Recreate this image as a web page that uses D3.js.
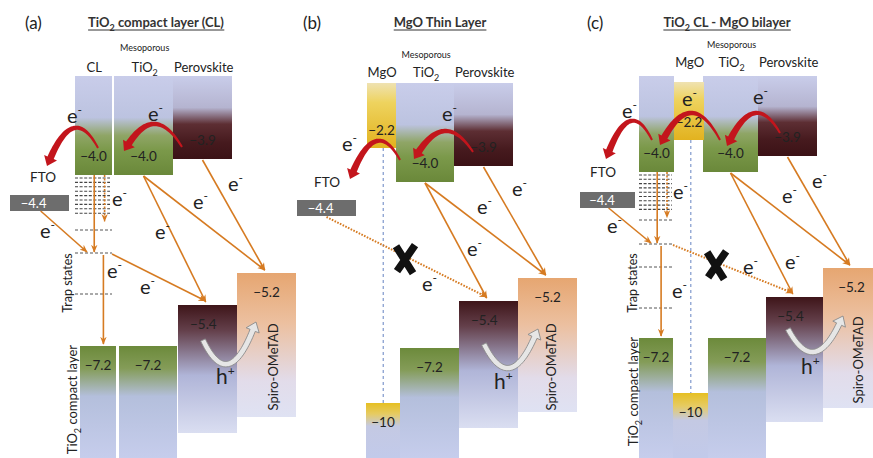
<!DOCTYPE html>
<html>
<head>
<meta charset="utf-8">
<script src="https://cdn.jsdelivr.net/npm/d3@7"></script>
<style>
  body { margin: 0; background: #fff; }
  text { font-family: Lato, "Open Sans", sans-serif; fill: #222; }
</style>
</head>
<body>
<div id="chart"></div>
<script>
// Data
const panelTags = ["(a)", "(b)", "(c)"];
const panelTitles = [["TiO", "2", " compact layer (CL)"], ["MgO Thin Layer"], ["TiO", "2", " CL - MgO bilayer"]];
const layerKeys = ["CL", "MgO", "TiO2", "Perovskite", "Spiro", "FTO"];
const cbLevels = [-4.0, -2.2, -4.0, -3.9, null, -4.4];
const vbLevels = [-7.2, -10, -7.2, -5.4, -5.2, null];
const panelLayers = [
    ["CL", "TiO2", "Perovskite", "Spiro", "FTO"],
    ["TiO2", "MgO", "Perovskite", "Spiro", "FTO"],
    ["CL", "TiO2", "MgO", "Perovskite", "Spiro", "FTO"]
];
const panelHeaders = [["CL", "TiO2", "Perovskite"], ["MgO", "TiO2", "Perovskite"], ["MgO", "TiO2", "Perovskite"]];
// energy break points of the (schematic) energy axis
const energyStops = [-2.2, -3.9, -4.0, -4.4, -5.2, -5.4, -7.2, -10];
// electron transfers drawn in every panel: [from layer, band, to layer, band]
const transfers = [["TiO2", "cb", "Perovskite", "vb"], ["TiO2", "cb", "Spiro", "vb"], ["Perovskite", "cb", "Spiro", "vb"]];

const chart_width = 873;
const chart_height = 458;

const level = (key, band) => (band === "cb" ? cbLevels : vbLevels)[layerKeys.indexOf(key)];
const fmt = v => Math.abs(v) >= 10 ? d3.format("d")(v) : d3.format(".1f")(v);

// Layout of each panel (pixels)
const layout = [
    {
        tag: [25, 29], title: [156, 27], mesoY: 51, headerY: 72,
        yRange: [140, 159, 175, 195, 273, 305, 346, 400], cbTop: {},
        top: 76,
        cbX: {CL: [75, 112], TiO2: [114, 173], Perovskite: [173, 232], FTO: [10, 69]},
        vbX: {CL: [80, 116], TiO2: [119, 177], Perovskite: [178, 237], Spiro: [237, 296]},
        vbBottom: {Perovskite: 433, Spiro: 417},
        traps: {x: [75, 110], x2: [75, 112], start: 3, step: 4.4, count: 9, sparse: [55, 78, 119], hit: 1, blocked: false},
        fto: [43, 182],
        red: [[[98, 148], 128, [47, 166]], [[182, 147], 124, [124, 151]]],
        gray: [[203, 340], 364, [256, 322]],
        trapLabels: [[67, 283], [72, 345]],
        spiroX: 273,
        e: [[72, 117], [153, 115], [117, 200], [233, 185], [198, 203], [45, 232], [160, 233], [112, 272], [145, 288]],
        h: [222, 377]
    },
    {
        tag: [303, 29], title: [440, 27], mesoY: 58, headerY: 77,
        yRange: [148, 166, 182, 200, 278, 301, 348, 403], cbTop: {},
        top: 83,
        cbX: {MgO: [367, 396], TiO2: [396, 454], Perovskite: [454, 513], FTO: [297, 356]},
        vbX: {MgO: [366, 400], TiO2: [400, 459], Perovskite: [459, 518], Spiro: [518, 577]},
        vbBottom: {Perovskite: 428, Spiro: 412},
        traps: null, xFrac: 0.49,
        fto: [327, 187],
        red: [[[400, 160], 141, [350, 179]], [[473, 152], 131, [414, 159]]],
        gray: [[484, 344], 368, [538, 329]],
        trapLabels: null,
        spiroX: 551,
        e: [[347, 145], [447, 115], [517, 190], [482, 208], [472, 250], [427, 285]],
        h: [500, 382]
    },
    {
        tag: [587, 29], title: [727, 27], mesoY: 48, headerY: 67,
        yRange: [140, 156, 172, 192, 268, 297, 338, 393], cbTop: {MgO: 82},
        top: 76,
        cbX: {CL: [639, 674], MgO: [674, 704], TiO2: [703, 758], Perovskite: [758, 817], FTO: [580, 635]},
        vbX: {CL: [639, 673], MgO: [673, 708], TiO2: [708, 766], Perovskite: [766, 823], Spiro: [823, 880]},
        vbBottom: {Perovskite: 422, Spiro: 408},
        traps: {x: [639, 672], x2: [639, 673], start: 3, step: 4.3, count: 9, sparse: [48, 72, 95, 136], hit: 1, blocked: true},
        xFrac: 0.36,
        fto: [603, 177],
        red: [[[652, 140], 121, [606, 159]], [[720, 140], 113, [660, 145]], [[780, 133], 113, [727, 146]]],
        gray: [[788, 329], 352, [843, 316]],
        trapLabels: [[632, 283], [633, 337]],
        spiroX: 858,
        e: [[627, 112], [687, 100], [758, 98], [678, 193], [817, 182], [787, 197], [612, 227], [677, 292], [748, 268], [790, 263]],
        h: [807, 367]
    }
];

// Create SVG
const svg = d3.select("#chart")
    .append("svg")
    .attr("width", chart_width)
    .attr("height", chart_height);

const defs = svg.append("defs");

const gradients = {
    cbTiO2: [[0, "#c9cdea"], [0.42, "#bcc3e0"], [0.6, "#8fa566"], [0.75, "#7b994a"], [1, "#6a883a"]],
    cbPerov: [[0, "#c9cdea"], [0.38, "#b5b4d0"], [0.58, "#5d2e33"], [0.8, "#461a1e"], [1, "#3b1216"]],
    cbMgO: [[0, "#efe2b2"], [0.3, "#eed35e"], [1, "#e2b21f"]],
    vbTiO2: [[0, "#6c8a3b"], [0.2, "#849c58"], [0.45, "#b4bfdc"], [1, "#c6cdec"]],
    vbPerov: [[0, "#3e1519"], [0.2, "#64404b"], [0.55, "#b0b5d8"], [1, "#dadef1"]],
    vbSpiro: [[0, "#e6a671"], [0.35, "#ecc0a0"], [0.75, "#e2dcea"], [1, "#dfe2f3"]],
    vbMgO: [[0, "#e6bf22"], [0.2, "#e6cb62"], [0.42, "#c4c9e3"], [1, "#c2caea"]]
};
Object.entries(gradients).forEach(([id, stops]) => {
    const g = defs.append("linearGradient").attr("id", id)
        .attr("x1", 0).attr("x2", 0).attr("y1", 0).attr("y2", 1);
    stops.forEach(s => g.append("stop").attr("offset", s[0]).attr("stop-color", s[1]));
});

defs.append("marker")
    .attr("id", "arrOrange")
    .attr("viewBox", "0 0 10 10")
    .attr("refX", 9).attr("refY", 5)
    .attr("markerUnits", "userSpaceOnUse")
    .attr("markerWidth", 8).attr("markerHeight", 8)
    .attr("orient", "auto")
    .append("path")
    .attr("d", "M0,1 L10,5 L0,9 L3,5 Z")
    .attr("fill", "#d67b22");

const fillFor = (key, band) => {
    if (key === "MgO") return band === "cb" ? "url(#cbMgO)" : "url(#vbMgO)";
    if (key === "Perovskite") return band === "cb" ? "url(#cbPerov)" : "url(#vbPerov)";
    if (key === "Spiro") return "url(#vbSpiro)";
    return band === "cb" ? "url(#cbTiO2)" : "url(#vbTiO2)";
};

const orange = "#d67b22";

function subText(sel, parts, small) {
    parts.forEach((p, i) => {
        if (i === 1) {
            sel.append("tspan").attr("font-size", small).attr("dy", 4).text(p);
        } else if (i === 2) {
            sel.append("tspan").attr("dy", -4).text(p);
        } else {
            sel.append("tspan").text(p);
        }
    });
}

function eLabel(g, x, y) {
    const t = g.append("text").attr("x", x - 5).attr("y", y + 6).attr("font-size", 20);
    t.append("tspan").text("e");
    t.append("tspan").attr("font-size", 12).attr("dy", -9).text("-");
}

function curvedArrow(g, s, apexY, tip, o) {
    let e = tip, q;
    for (let k = 0; k < 4; k++) {
        q = [(s[0] + e[0]) / 2, 2 * apexY - (s[1] + e[1]) / 2];
        const dx = tip[0] - q[0], dy = tip[1] - q[1], d = Math.hypot(dx, dy);
        e = [tip[0] - o.headLen * dx / d, tip[1] - o.headLen * dy / d];
    }
    const left = [], right = [];
    const n = 40;
    for (let i = 0; i <= n; i++) {
        const t = i / n, u = 1 - t;
        const x = u * u * s[0] + 2 * u * t * q[0] + t * t * e[0];
        const y = u * u * s[1] + 2 * u * t * q[1] + t * t * e[1];
        const tx = 2 * u * (q[0] - s[0]) + 2 * t * (e[0] - q[0]);
        const ty = 2 * u * (q[1] - s[1]) + 2 * t * (e[1] - q[1]);
        const tl = Math.hypot(tx, ty);
        const w = o.w0 + (o.w1 - o.w0) * t;
        left.push([x - ty / tl * w, y + tx / tl * w]);
        right.push([x + ty / tl * w, y - tx / tl * w]);
    }
    const dx = tip[0] - e[0], dy = tip[1] - e[1], d = Math.hypot(dx, dy);
    const nx = -dy / d, ny = dx / d;
    const pts = [...left,
        [e[0] + nx * o.headW, e[1] + ny * o.headW], tip,
        [e[0] - nx * o.headW, e[1] - ny * o.headW],
        ...right.reverse()];
    g.append("path")
        .attr("d", d3.line()(pts) + "Z")
        .attr("fill", o.fill)
        .attr("stroke", o.stroke || "none")
        .attr("stroke-width", o.strokeWidth || 0)
        .attr("stroke-linejoin", "round");
}

function drawPanel(i) {
    const L = layout[i];
    const g = svg.append("g");

    // Scales
    const y_scale = d3.scaleLinear().domain(energyStops).range(L.yRange);
    const xAt = (box, f) => box[0] + (box[1] - box[0]) * f;

    const layers = panelLayers[i];

    // Conduction band / LUMO boxes (top part)
    layers.filter(k => k !== "Spiro" && k !== "FTO").forEach(k => {
        const [x0, x1] = L.cbX[k];
        const top = L.cbTop[k] || L.top;
        g.append("rect")
            .attr("x", x0).attr("y", top)
            .attr("width", x1 - x0)
            .attr("height", y_scale(level(k, "cb")) - top)
            .attr("fill", fillFor(k, "cb"));
    });

    // Valence band / HOMO boxes (bottom part)
    layers.filter(k => k !== "FTO").forEach(k => {
        const [x0, x1] = L.vbX[k];
        const yTop = y_scale(level(k, "vb"));
        const bottom = L.vbBottom[k] || chart_height;
        g.append("rect")
            .attr("x", x0).attr("y", yTop)
            .attr("width", x1 - x0)
            .attr("height", bottom - yTop)
            .attr("fill", fillFor(k, "vb"));
    });

    // FTO work function
    const fto = L.cbX.FTO;
    const ftoY = y_scale(level("FTO", "cb"));
    g.append("rect")
        .attr("x", fto[0]).attr("y", ftoY)
        .attr("width", fto[1] - fto[0]).attr("height", 16)
        .attr("fill", "#6d6d6d");
    g.append("text")
        .attr("x", xAt(fto, 0.4)).attr("y", ftoY + 12.5)
        .attr("text-anchor", "middle").attr("font-size", 13)
        .style("fill", "#fff")
        .text(fmt(level("FTO", "cb")));
    g.append("text")
        .attr("x", L.fto[0]).attr("y", L.fto[1])
        .attr("text-anchor", "middle").attr("font-size", 13.5)
        .text("FTO");

    // MgO dashed link
    if (layers.includes("MgO")) {
        const mx = xAt(L.cbX.MgO, 0.56);
        g.append("line")
            .attr("x1", mx).attr("x2", mx)
            .attr("y1", y_scale(level("MgO", "cb"))).attr("y2", y_scale(level("MgO", "vb")))
            .attr("stroke", "#7f98cc").attr("stroke-width", 1.2)
            .attr("stroke-dasharray", "3,3");
    }

    // Trap states under the compact layer
    let trapHit = null;
    if (L.traps) {
        const T = L.traps;
        const cbY = y_scale(level("CL", "cb"));
        const dense = d3.range(T.count).map(j => cbY + T.start + j * T.step);
        const sparse = T.sparse.map(o => cbY + o);
        g.selectAll(null).data(dense).enter().append("line")
            .attr("x1", T.x[0]).attr("x2", T.x[1])
            .attr("y1", d => d).attr("y2", d => d)
            .attr("stroke", "#444").attr("stroke-width", 1.1)
            .attr("stroke-dasharray", "3,1.6");
        g.selectAll(null).data(sparse).enter().append("line")
            .attr("x1", T.x2[0]).attr("x2", T.x2[1])
            .attr("y1", d => d).attr("y2", d => d)
            .attr("stroke", "#555").attr("stroke-width", 1)
            .attr("stroke-dasharray", "3,2");
        trapHit = sparse[T.hit];

        const clBox = L.cbX.CL;
        const xa = xAt(clBox, 0.52), xb = xAt(clBox, 0.8);
        // CL -> trap
        g.append("line")
            .attr("x1", xa).attr("x2", xa).attr("y1", cbY).attr("y2", trapHit - 1)
            .attr("stroke", orange).attr("stroke-width", 1.6)
            .attr("marker-end", "url(#arrOrange)");
        // CL -> shallow traps (dotted)
        g.append("line")
            .attr("x1", xb).attr("x2", xb).attr("y1", cbY).attr("y2", dense[dense.length - 1] + 8)
            .attr("stroke", orange).attr("stroke-width", 1.6)
            .attr("stroke-dasharray", "2,1.5")
            .attr("marker-end", "url(#arrOrange)");
        // FTO -> trap
        g.append("line")
            .attr("x1", xAt(fto, 0.52)).attr("y1", ftoY + 16)
            .attr("x2", T.x[0] + 12).attr("y2", trapHit - 1)
            .attr("stroke", orange).attr("stroke-width", 1.6)
            .attr("marker-end", "url(#arrOrange)");
        // trap -> CL valence band
        const xc = xAt(L.vbX.CL, 0.65);
        g.append("line")
            .attr("x1", xc).attr("x2", xc).attr("y1", trapHit + 2).attr("y2", y_scale(level("CL", "vb")) - 2)
            .attr("stroke", orange).attr("stroke-width", 1.6)
            .attr("marker-end", "url(#arrOrange)");
    }

    // Recombination path to perovskite (blocked by MgO in b and c)
    const pvTarget = [xAt(L.vbX.Perovskite, 0.47), y_scale(level("Perovskite", "vb")) - 4];
    let recStart = null, blocked = false;
    if (L.traps) {
        recStart = [L.traps.x2[1], trapHit + 1];
        blocked = L.traps.blocked;
    } else {
        recStart = [xAt(fto, 0.5), ftoY + 17];
        blocked = true;
    }
    g.append("line")
        .attr("x1", recStart[0]).attr("y1", recStart[1])
        .attr("x2", pvTarget[0]).attr("y2", pvTarget[1])
        .attr("stroke", orange).attr("stroke-width", blocked ? 2 : 1.6)
        .attr("stroke-dasharray", blocked ? "1.6,1.4" : null)
        .attr("marker-end", "url(#arrOrange)");
    if (blocked) {
        const cx = recStart[0] + (pvTarget[0] - recStart[0]) * L.xFrac;
        const cy = recStart[1] + (pvTarget[1] - recStart[1]) * L.xFrac + 3;
        g.append("path")
            .attr("d", `M${cx - 9},${cy - 13} L${cx + 8},${cy + 14} M${cx + 10},${cy - 14} L${cx - 8},${cy + 12}`)
            .attr("stroke", "#111").attr("stroke-width", 7.5)
            .attr("fill", "none");
    }

    // Standard electron transfers
    transfers.forEach(([fk, fb, tk, tb]) => {
        g.append("line")
            .attr("x1", xAt(L.cbX[fk], 0.5)).attr("y1", y_scale(level(fk, fb)) + 1)
            .attr("x2", xAt(L.vbX[tk], 0.47)).attr("y2", y_scale(level(tk, tb)) - 3)
            .attr("stroke", orange).attr("stroke-width", 1.6)
            .attr("marker-end", "url(#arrOrange)");
    });

    // Energy value labels
    layers.filter(k => k !== "Spiro" && k !== "FTO").forEach(k => {
        g.append("text")
            .attr("x", xAt(L.cbX[k], 0.5))
            .attr("y", y_scale(level(k, "cb")) - (k === "MgO" ? 13 : 14))
            .attr("text-anchor", "middle").attr("font-size", 13.5)
            .text(fmt(level(k, "cb")));
    });
    layers.filter(k => k !== "FTO").forEach(k => {
        g.append("text")
            .attr("x", xAt(L.vbX[k], k === "Perovskite" ? 0.43 : 0.5))
            .attr("y", y_scale(level(k, "vb")) + 24)
            .attr("text-anchor", "middle").attr("font-size", 13.5)
            .text(fmt(level(k, "vb")));
    });

    // Column headers
    g.append("text")
        .attr("x", xAt(L.cbX.TiO2, 0.52)).attr("y", L.mesoY)
        .attr("text-anchor", "middle").attr("font-size", 9)
        .text("Mesoporous");
    panelHeaders[i].forEach(k => {
        const t = g.append("text")
            .attr("x", xAt(L.cbX[k], 0.52)).attr("y", L.headerY)
            .attr("text-anchor", "middle").attr("font-size", 13);
        if (k === "TiO2") subText(t, ["TiO", "2"], 9);
        else t.text(k);
    });

    // Rotated labels
    g.append("text")
        .attr("transform", `translate(${L.spiroX + 4.5},${(y_scale(level("Spiro", "vb")) + L.vbBottom.Spiro) / 2 + 22}) rotate(-90)`)
        .attr("text-anchor", "middle").attr("font-size", 13)
        .text("Spiro-OMeTAD");
    if (L.trapLabels) {
        g.append("text")
            .attr("transform", `translate(${L.trapLabels[0][0] + 4.5},${L.trapLabels[0][1]}) rotate(-90)`)
            .attr("text-anchor", "middle").attr("font-size", 12.5)
            .text("Trap states");
        const t = g.append("text")
            .attr("transform", `translate(${L.trapLabels[1][0] + 4.5},${y_scale(level("CL", "vb")) - 1}) rotate(-90)`)
            .attr("text-anchor", "end").attr("font-size", 13);
        subText(t, ["TiO", "2", " compact layer"], 9);
    }

    // Red curved electron injection arrows
    L.red.forEach(([s, apex, tip]) => curvedArrow(g, s, apex, tip,
        {w0: 1.0, w1: 3.4, headLen: 9, headW: 7, fill: "#c3151c"}));

    // Hole transfer arrow
    curvedArrow(g, L.gray[0], L.gray[1], L.gray[2],
        {w0: 2.6, w1: 2.8, headLen: 9, headW: 7, fill: "#e6e6e6", stroke: "#8a8a8a", strokeWidth: 0.9});

    // e- and h+ labels
    L.e.forEach(p => eLabel(g, p[0], p[1]));
    const h = g.append("text").attr("x", L.h[0] - 6).attr("y", L.h[1] + 7).attr("font-size", 21);
    h.append("tspan").text("h");
    h.append("tspan").attr("font-size", 12).attr("dy", -9).text("+");

    // Panel tag and title
    g.append("text")
        .attr("x", L.tag[0]).attr("y", L.tag[1])
        .attr("font-size", 17)
        .text(panelTags[i]);
    const title = g.append("text")
        .attr("x", L.title[0]).attr("y", L.title[1])
        .attr("text-anchor", "middle")
        .attr("font-size", 13).attr("font-weight", "bold")
        .style("fill", "#333");
    subText(title, panelTitles[i], 9);
    const bb = title.node().getBBox();
    g.append("line")
        .attr("x1", bb.x).attr("x2", bb.x + bb.width)
        .attr("y1", L.title[1] + 3).attr("y2", L.title[1] + 3)
        .attr("stroke", "#333").attr("stroke-width", 1);
}

layout.forEach((d, i) => drawPanel(i));
</script>
</body>
</html>
